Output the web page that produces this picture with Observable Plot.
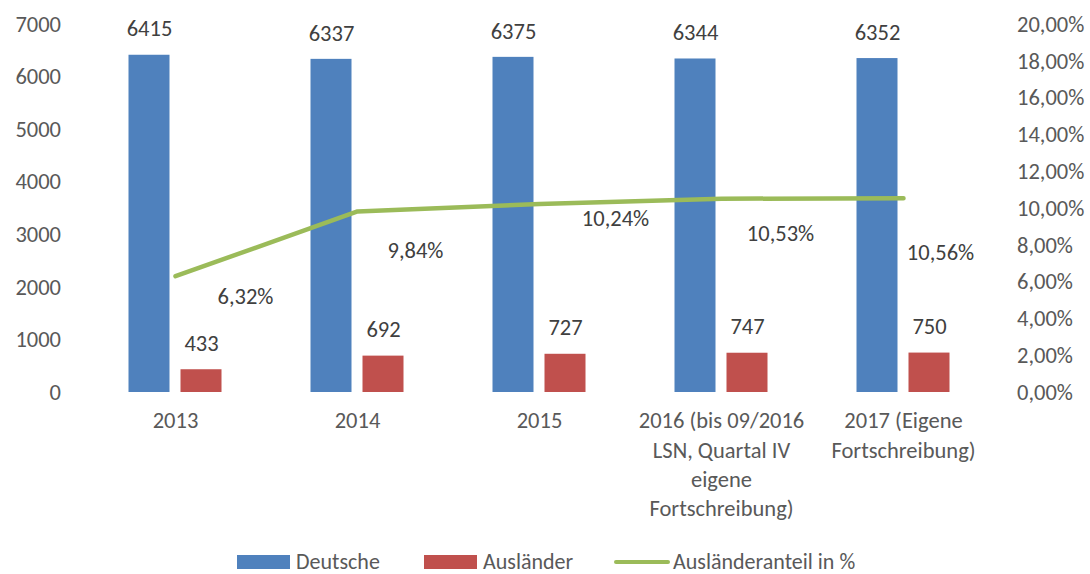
<!DOCTYPE html>
<html>
<head>
<meta charset="utf-8">
<script src="https://cdn.jsdelivr.net/npm/d3@7"></script>
<script src="https://cdn.jsdelivr.net/npm/@observablehq/plot@0.6"></script>
<style>
  html, body { margin: 0; padding: 0; background: #fff; }
  body { width: 1090px; height: 574px; overflow: hidden; position: relative; font-family: Calibri, Carlito, Lato, sans-serif; }
  #legend { position: absolute; left: 0; top: 549px; height: 25px; width: 1090px; }
  .item { position: absolute; top: 0; height: 25px; line-height: 25px; display: flex; align-items: center; font-size: 22px; color: #595959; }
  .sw { display: inline-block; width: 53px; height: 14px; margin-right: 6px; }
  .ln { display: inline-block; width: 56px; height: 4px; border-radius: 2px; margin-right: 3px; }
</style>
</head>
<body>
<div id="chart"></div>
<div id="legend">
  <div class="item" style="left:237px"><span class="sw" style="background:#4F81BD"></span>Deutsche</div>
  <div class="item" style="left:424px"><span class="sw" style="background:#C0504D"></span>Ausländer</div>
  <div class="item" style="left:614px"><span class="ln" style="background:#9BBB59"></span>Ausländeranteil in %</div>
</div>
<script>
// ---- data ----
const years = ["2013", "2014", "2015", "2016", "2017"];
const yearLabels = ["2013", "2014", "2015", "2016 (bis 09/2016\nLSN, Quartal IV\neigene\nFortschreibung)", "2017 (Eigene\nFortschreibung)"];
const deutsche = [6415, 6337, 6375, 6344, 6352];
const auslaender = [433, 692, 727, 747, 750];
const anteil = [6.32, 9.84, 10.24, 10.53, 10.56];
const leftTicks = [0, 1000, 2000, 3000, 4000, 5000, 6000, 7000];
const rightTicks = [0, 2, 4, 6, 8, 10, 12, 14, 16, 18, 20];

// ---- build ----
const rows = years.map((y, i) => ({year: y, label: yearLabels[i], de: deutsche[i], au: auslaender[i], pct: anteil[i]}));
const pctMax = 20, yMax = 7000;
const toY = p => p / pctMax * yMax;
const fmtPct = p => p.toFixed(2).replace(".", ",") + "%";
const font = "Calibri, Carlito, Lato, sans-serif";
const fs = 22.5;

const pctOffsets = [[70, 21], [58, 39], [76, 15], [59, 35], [37, 55]];

const marks = [
  Plot.barY(rows, {x: "year", y: "de", fill: "#4F81BD", insetLeft: 44.5, insetRight: 96.5}),
  Plot.barY(rows, {x: "year", y: "au", fill: "#C0504D", insetLeft: 96.5, insetRight: 44.5}),
  Plot.line(rows, {x: "year", y: d => toY(d.pct), stroke: "#9BBB59", strokeWidth: 4.5, strokeLinecap: "round", strokeLinejoin: "round"}),
  Plot.text(rows, {x: "year", y: "de", text: d => String(d.de), dx: -26, dy: -26, fill: "#404040", fontSize: fs, lineAnchor: "middle"}),
  Plot.text(rows, {x: "year", y: "au", text: d => String(d.au), dx: 26, dy: -26, fill: "#404040", fontSize: fs, lineAnchor: "middle"}),
  ...rows.map((r, i) => Plot.text([r], {x: "year", y: d => toY(d.pct), text: d => fmtPct(d.pct), dx: pctOffsets[i][0], dy: pctOffsets[i][1], fill: "#404040", fontSize: fs, lineAnchor: "middle"})),
  Plot.text(rows, {x: "year", frameAnchor: "bottom", text: "label", lineAnchor: "top", dy: 15, lineHeight: 1.3, fill: "#595959", fontSize: fs}),
  Plot.axisY(leftTicks, {anchor: "left", tickSize: 0, tickPadding: 23, fontSize: fs, color: "#595959", label: null, tickFormat: d => String(d)}),
  Plot.axisY(rightTicks.map(toY), {anchor: "right", tickSize: 0, tickPadding: 23, fontSize: fs, color: "#595959", label: null, tickFormat: d => fmtPct(d * pctMax / yMax)})
];

const chart = Plot.plot({
  width: 1090,
  height: 548,
  marginTop: 24,
  marginBottom: 156,
  marginLeft: 83.5,
  marginRight: 96.5,
  style: {fontFamily: font, fontSize: fs + "px", background: "#fff", color: "#595959"},
  x: {domain: years, padding: 0, axis: null},
  y: {domain: [0, yMax], axis: null},
  marks
});
document.getElementById("chart").appendChild(chart);
</script>
</body>
</html>
